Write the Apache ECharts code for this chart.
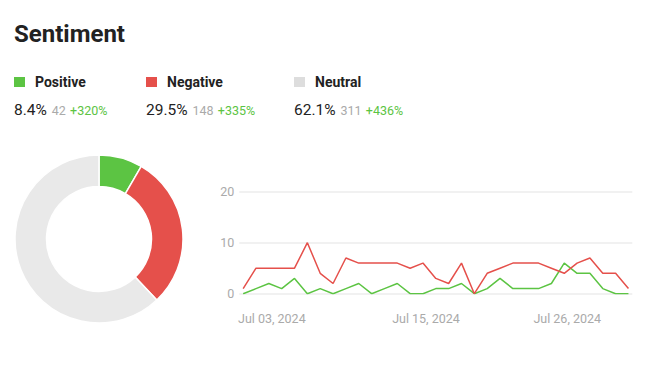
<!DOCTYPE html>
<html>
<head>
<meta charset="utf-8">
<script src="https://cdn.jsdelivr.net/npm/echarts@6/dist/echarts.min.js"></script>
<style>
html,body{margin:0;padding:0;background:#fff;}
#chart{width:652px;height:373px;}
</style>
</head>
<body>
<div id="chart"></div>
<script>
// ---- data ----
const title = 'Sentiment';
const sentimentNames = ['Positive', 'Negative', 'Neutral'];
const sentimentCounts = [42, 148, 311];
const sentimentChanges = ['+320%', '+335%', '+436%'];
const sentimentColors = ['#5cc443', '#e5504b', '#e9e9e9'];
const dates = ['Jul 01, 2024','Jul 02, 2024','Jul 03, 2024','Jul 04, 2024','Jul 05, 2024','Jul 06, 2024','Jul 07, 2024','Jul 08, 2024','Jul 09, 2024','Jul 10, 2024','Jul 11, 2024','Jul 12, 2024','Jul 13, 2024','Jul 14, 2024','Jul 15, 2024','Jul 16, 2024','Jul 17, 2024','Jul 18, 2024','Jul 19, 2024','Jul 20, 2024','Jul 21, 2024','Jul 22, 2024','Jul 23, 2024','Jul 24, 2024','Jul 25, 2024','Jul 26, 2024','Jul 27, 2024','Jul 28, 2024','Jul 29, 2024','Jul 30, 2024','Jul 31, 2024'];
const positiveDaily = [0,1,2,1,3,0,1,0,1,2,0,1,2,0,0,1,1,2,0,1,3,1,1,1,2,6,4,4,1,0,0];
const negativeDaily = [1,5,5,5,5,10,4,2,7,6,6,6,6,5,6,3,2,6,0,4,5,6,6,6,5,4,6,7,4,4,1];
const xLabelDates = ['Jul 03, 2024', 'Jul 15, 2024', 'Jul 26, 2024'];
const yTicks = [0, 10, 20];

// ---- chart ----
const chart = echarts.init(document.getElementById('chart'), null, {renderer: 'svg'});
const FONT = 'Roboto, "Noto Sans", sans-serif';
const total = sentimentCounts.reduce((a, b) => a + b, 0);

const headerX = [14, 146, 294];
const graphics = [{
  type: 'text', x: 14, y: 34,
  style: {text: title, font: 'bold 24px ' + FONT, fill: '#222', verticalAlign: 'middle', textVerticalAlign: 'middle'}
}];
sentimentNames.forEach((name, i) => {
  graphics.push({
    type: 'rect', shape: {x: headerX[i], y: 77, width: 11, height: 10},
    style: {fill: sentimentColors[i] === '#e9e9e9' ? '#dddddd' : sentimentColors[i]}
  });
  graphics.push({
    type: 'text', x: headerX[i] + 21, y: 82,
    style: {text: name, font: 'bold 14px ' + FONT, fill: '#222', verticalAlign: 'middle', textVerticalAlign: 'middle'}
  });
  const pct = (sentimentCounts[i] / total * 100).toFixed(1) + '%';
  graphics.push({
    type: 'text', x: headerX[i], y: 110,
    style: {
      text: '{a|' + pct + '} {b|' + sentimentCounts[i] + '} {c|' + sentimentChanges[i] + '}',
      verticalAlign: 'middle', textVerticalAlign: 'middle',
      rich: {
        a: {fontSize: 15.5, fontFamily: FONT, fill: '#222', color: '#222', padding: [0, 1.5, 0, 0]},
        b: {fontSize: 12.5, fontFamily: FONT, fill: '#aaaaaa', color: '#aaaaaa', padding: [0, 1, 0, 0]},
        c: {fontSize: 12.5, fontFamily: FONT, fill: '#5cc443', color: '#5cc443'}
      }
    }
  });
});

const tickIdx = xLabelDates.map(d => dates.indexOf(d));

chart.setOption({
  animation: false,
  textStyle: {fontFamily: FONT},
  graphic: graphics,
  grid: {left: 239.3, right: 19.7, top: 191.7, bottom: 79.3, containLabel: false},
  xAxis: {
    type: 'value', min: -0.3, max: dates.length - 1 + 0.3,
    axisLine: {show: false}, axisTick: {show: false}, splitLine: {show: false},
    axisLabel: {
      customValues: tickIdx, color: '#aaaaaa', fontSize: 12.5, margin: 18,
      padding: [0, 0, 0, 6],
      formatter: v => dates[Math.round(v)]
    }
  },
  yAxis: {
    type: 'value', min: yTicks[0], max: yTicks[yTicks.length - 1], interval: 10,
    axisLine: {show: false}, axisTick: {show: false},
    axisLabel: {color: '#aaaaaa', fontSize: 12.5, margin: 5},
    splitLine: {lineStyle: {color: '#ececec', width: 1.5}}
  },
  series: [
    {
      type: 'pie', center: [99, 239], radius: [52.5, 84], startAngle: 90, clockwise: true,
      label: {show: false}, labelLine: {show: false}, silent: true,
      itemStyle: {borderColor: '#fff', borderWidth: 1.5},
      data: sentimentNames.map((n, i) => ({name: n, value: sentimentCounts[i], itemStyle: {color: sentimentColors[i]}}))
    },
    {
      type: 'line', name: 'Positive', showSymbol: false, symbol: 'none',
      lineStyle: {color: sentimentColors[0], width: 1.5},
      data: positiveDaily.map((v, i) => [i, v])
    },
    {
      type: 'line', name: 'Negative', showSymbol: false, symbol: 'none',
      lineStyle: {color: sentimentColors[1], width: 1.5},
      data: negativeDaily.map((v, i) => [i, v])
    }
  ]
});
</script>
</body>
</html>
